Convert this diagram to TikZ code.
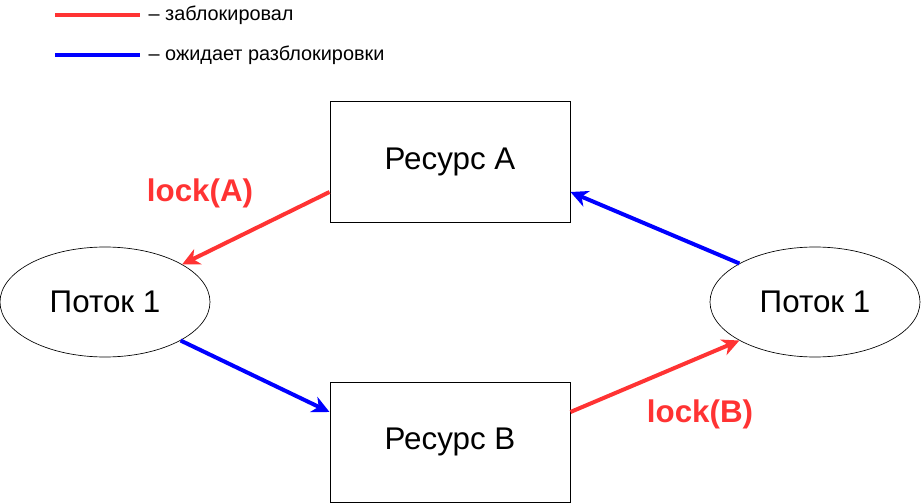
\documentclass[tikz,border=0pt]{standalone}
\usepackage{fontspec}
\setmainfont{Liberation Sans}
\usetikzlibrary{arrows.meta,shapes.geometric}
\definecolor{lockred}{HTML}{FF3333}
\definecolor{waitblue}{HTML}{0000FF}

\begin{document}
\begin{tikzpicture}[x=0.75pt,y=-0.75pt,
    res/.style={draw,line width=0.75pt,minimum width=180pt,minimum height=90pt,inner sep=0pt,font=\fontsize{23.5}{28}\selectfont},
    thr/.style={draw,ellipse,line width=0.5pt,minimum width=157.5pt,minimum height=82.5pt,inner sep=0pt,font=\fontsize{23.5}{28}\selectfont},
    locked/.style={draw=lockred,line width=3pt,-{Stealth[length=13pt,width=12.5pt,inset=4pt]}},
    waiting/.style={draw=waitblue,line width=3pt,-{Stealth[length=13pt,width=12.5pt,inset=4pt]}},
    lbl/.style={text=lockred,font=\bfseries\fontsize{23.5}{28}\selectfont},
    leg/.style={text=black,font=\fontsize{14.9}{18}\selectfont,inner sep=5pt}]
      \useasboundingbox (0,0) rectangle (922,503);
      % legend
      \coordinate (r1) at (55,15);  \coordinate (r2) at (140,15);
      \coordinate (b1) at (55,55);  \coordinate (b2) at (140,55);
      \draw[lockred,line width=3pt] (r1) -- (r2) node[leg,right] (lr) {– заблокировал};
      \draw[waitblue,line width=3pt] (b1) -- (b2) node[leg,right] (lb) {– ожидает разблокировки};
      % resources and threads
      \node[res] (A) at (450,162) {Ресурс A};
      \node[res] (B) at (450,442) {Ресурс B};
      \node[thr] (t1) at (105,302) {Поток 1};
      \node[thr] (t2) at (815,302) {Поток 1};
      \draw[locked] ([yshift=-22.5pt]A.west) -- (t1.26);
      \draw[waiting] (t1.-27) -- ([yshift=22.5pt]B.west);
      \draw[locked] ([yshift=22.5pt]B.east) -- (t2.207);
      \draw[waiting] (t2.153) -- ([yshift=-22.5pt]A.east);
      \node[lbl] (lockA) at (200,193) {lock(A)};
      \node[lbl] (lockB) at (700,414) {lock(B)};
\end{tikzpicture}
\end{document}
